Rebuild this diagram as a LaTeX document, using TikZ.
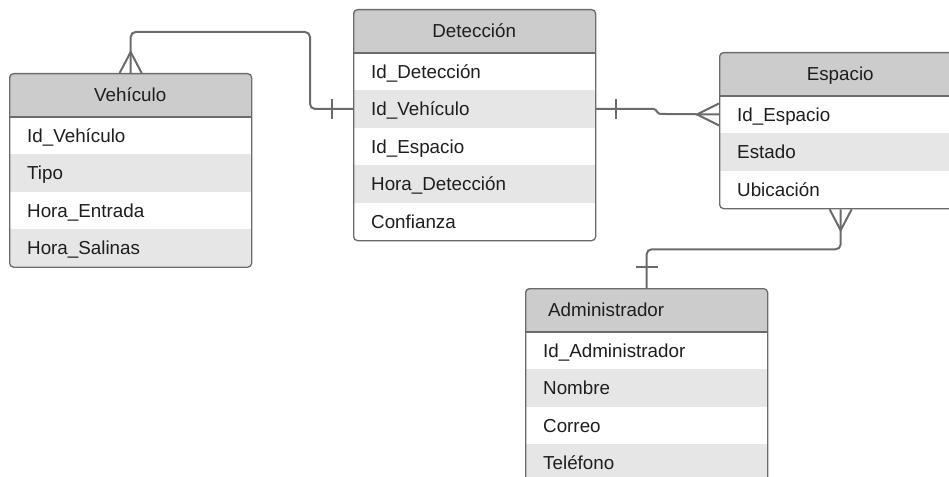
\documentclass[tikz,border=0pt]{standalone}
\usepackage{fontspec}
\setmainfont{Liberation Sans}
\usetikzlibrary{calc}
\definecolor{hdr}{HTML}{CCCCCC}
\definecolor{alt}{HTML}{E6E6E6}
\definecolor{edge}{HTML}{6B6B6B}
\definecolor{ink}{HTML}{1E1E1E}
\tikzset{
  every node/.style={font=\fontsize{18.8}{21}\selectfont},
  tabframe/.style={draw=edge, line width=1.3pt, rounded corners=4pt, minimum width=242pt, anchor=north west, inner sep=0pt},
  headcell/.style={minimum width=242pt, minimum height=43.5pt, anchor=north west, inner sep=0pt, fill=hdr, text=ink, text height=13.5pt, text depth=0pt},
  headleft/.style={align=left, text width=196pt, inner xsep=23pt},
  rowcell/.style={minimum width=242pt, minimum height=37.5pt, anchor=north west, inner xsep=18pt, inner ysep=0pt, text width=206pt, align=left, text height=13.5pt, text depth=0pt, text=ink},
  conn/.style={draw=edge, line width=2pt},
  sepline/.style={draw=edge, line width=1.6pt},
}
\newcommand{\erdtable}[7]{%
  \begin{scope}
    \clip[rounded corners=4pt] (#2,#3) rectangle ++(242,43.5+#4*37.5);
    \node[headcell,#6] (#1-h) at (#2,#3) {#5};
    \foreach \rtext [count=\ri] in {#7} {
      \ifodd\ri \def\rfill{white}\else\def\rfill{alt}\fi
      \node[rowcell, fill=\rfill] (#1-r\ri) at (#2,#3+43.5+\ri*37.5-37.5) {\rtext};
    }
  \end{scope}
  \node[tabframe, minimum height=43.5pt+#4*37.5pt] (#1) at (#2,#3) {};
  \draw[sepline] (#1-h.south west) -- (#1-h.south east);
}
\begin{document}
\begin{tikzpicture}[x=1pt, y=-1pt]
  \useasboundingbox (0,0) rectangle (949,476);
  \clip (0,0) rectangle (949,476);
  \fill[white] (0,0) rectangle (949,476);

  \erdtable{veh}{9}{73}{4}{Vehículo}{}{Id\_Vehículo, Tipo, Hora\_Entrada, Hora\_Salinas}
  \erdtable{det}{353}{9}{5}{Detección}{}{Id\_Detección, Id\_Vehículo, Id\_Espacio, Hora\_Detección, Confianza}
  \erdtable{esp}{719}{52}{3}{Espacio}{}{Id\_Espacio, Estado, Ubicación}
  \erdtable{adm}{525}{288}{4}{Administrador}{headleft}{Id\_Administrador, Nombre, Correo, Teléfono}

  % Vehiculo (many) -- Deteccion (one)
  \draw[conn, rounded corners=5pt] (veh.north) -- ++(0,-41) -| ($(det-r2.west)+(-43,0)$) -- (det-r2.west);
  \draw[conn] ($(veh.north)+(-11,0)$) -- ++(11,-21) -- ++(11,21);
  \draw[conn] ($(det-r2.west)+(-21,-10)$) -- ++(0,20);

  % Deteccion (one) -- Espacio (many)
  \draw[conn] (det-r2.east) -- ++(58,0) to[out=0,in=180] ++(7,5) -- (esp-r1.west);
  \draw[conn] ($(det-r2.east)+(21,-10)$) -- ++(0,20);
  \draw[conn] ($(esp-r1.west)+(0,-11)$) -- ++(-22,11) -- ++(22,11);

  % Espacio (many) -- Administrador (one)
  \draw[conn, rounded corners=5pt] (esp.south) -- ++(0,40) -| (adm.north);
  \draw[conn] ($(esp.south)+(-11,0)$) -- ++(11,21) -- ++(11,-21);
  \draw[conn] ($(adm.north)+(-11,-21)$) -- ++(22,0);
\end{tikzpicture}
\end{document}
